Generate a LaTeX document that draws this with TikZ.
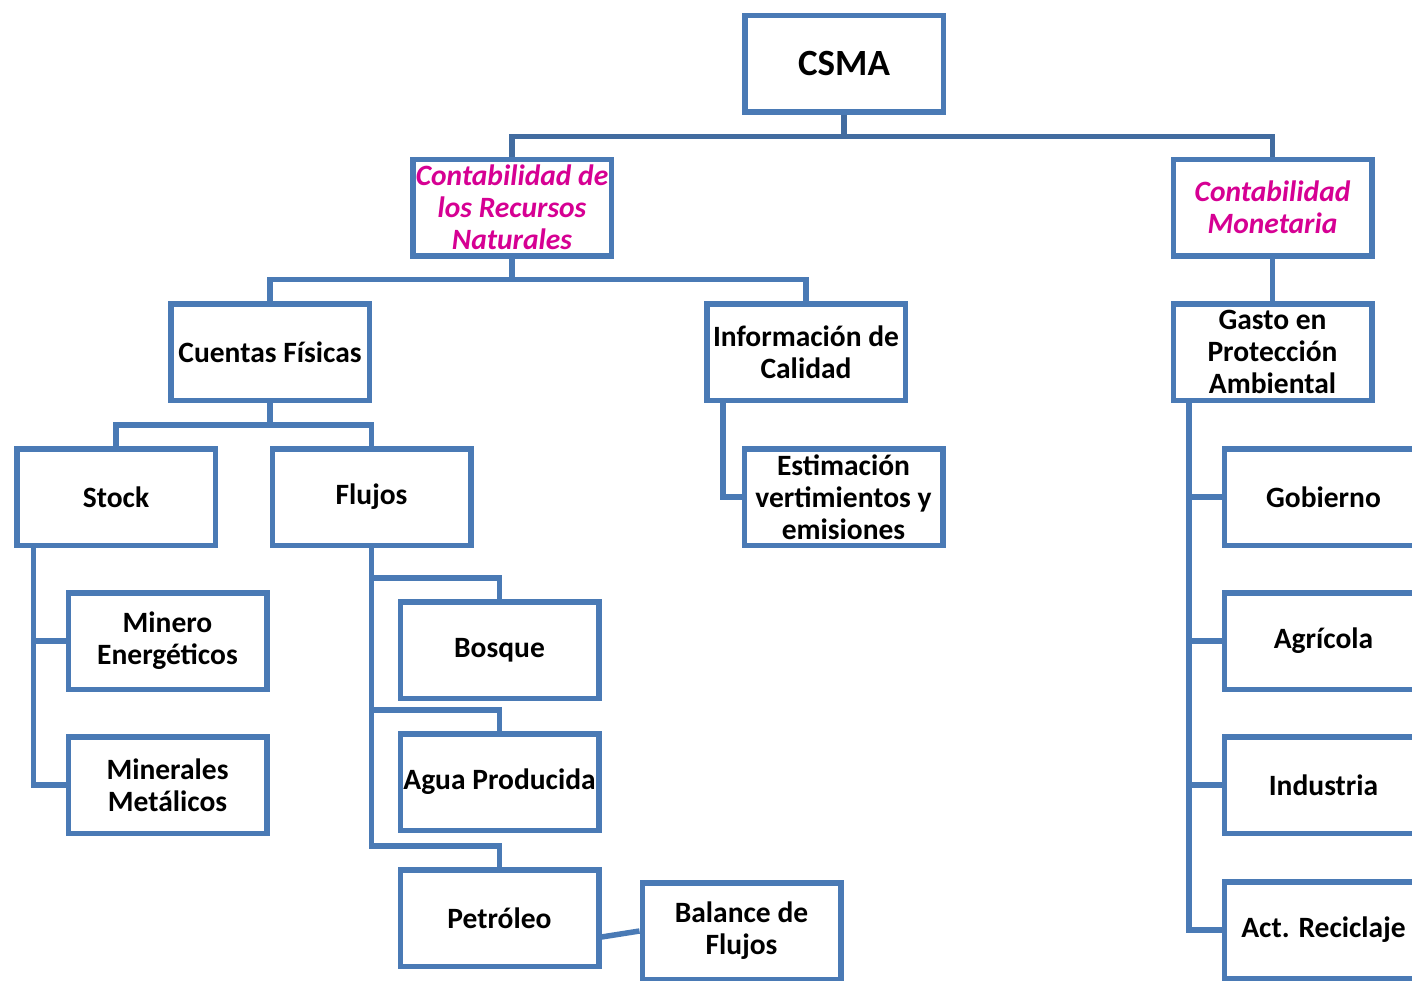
\documentclass[tikz,border=0pt]{standalone}
\usepackage{fontspec}
\setmainfont{Carlito}
\usetikzlibrary{positioning}

\definecolor{boxblue}{RGB}{74,122,181}
\definecolor{linkblue}{RGB}{66,108,160}
\definecolor{titlepink}{RGB}{214,0,147}

\tikzset{
  box/.style={draw=boxblue,line width=5.5pt,fill=white,minimum width=198.5pt,
    minimum height=96.5pt,inner sep=0pt,align=center,
    font=\fontsize{29.5}{32}\selectfont\bfseries},
  pinkbox/.style={box,text=titlepink,font=\fontsize{29.5}{32}\selectfont\bfseries\itshape},
  conn/.style={draw=boxblue,line width=5.5pt},
  topconn/.style={draw=linkblue,line width=5.5pt}
}

\begin{document}
\begin{tikzpicture}[x=1pt,y=-1pt]
        % page and background
        \clip (0,0) rectangle (1412,980);
        \fill[white] (0,0) rectangle (1412,980);

        % top levels
        \node[box,font=\fontsize{37}{40}\selectfont\bfseries] (csma) at (844,63.5) {CSMA};
        \node[pinkbox] (crn) at (512,207.5) {Contabilidad de\\los Recursos\\Naturales};
        \node[pinkbox] (cm) at (1272.5,207.5) {Contabilidad\\Monetaria};

        \node[box] (fisicas) at (270,352) {Cuentas Físicas};
        \node[box] (calidad) at (806,352) {Información de\\Calidad};
        \node[box] (gasto) at (1272.5,352) {Gasto en\\Protección\\Ambiental};

        % physical accounts
        \node[box] (stock) at (116,497) {Stock};
        \node[box] (flujos) at (371.5,497) {Flujos};
        \node[box] (minero) at (167.5,641) {Minero\\Energéticos};
        \node[box] (metal) at (167.5,785) {Minerales\\Metálicos};
        \node[box] (bosque) at (499.5,650) {Bosque};
        \node[box] (agua) at (499.5,782) {Agua Producida};
        \node[box] (petro) at (499.5,918) {Petróleo};
        \node[box] (balance) at (741.5,931) {Balance de\\Flujos};

        % quality
        \node[box] (estim) at (843.5,497) {Estimación\\vertimientos y\\emisiones};

        % expenditure
        \node[box] (gob) at (1323.5,497) {Gobierno};
        \node[box] (agri) at (1323.5,641) {Agrícola};
        \node[box] (indus) at (1323.5,785) {Industria};
        \node[box] (recic) at (1323.5,930) {Act. Reciclaje};

        % connectors
        \draw[topconn] (csma.south) -- ++(0,22) -| (crn.north);
        \draw[topconn] (csma.south) -- ++(0,22) -| (cm.north);
        \draw[conn] (crn.south) -- ++(0,21) -| (fisicas.north);
        \draw[conn] (crn.south) -- ++(0,21) -| (calidad.north);
        \draw[conn] (cm.south) -- (gasto.north);
        \draw[conn] (fisicas.south) -- ++(0,22) -| (stock.north);
        \draw[conn] (fisicas.south) -- ++(0,22) -| (flujos.north);

        \draw[conn] ([xshift=19pt]calidad.south west) |- (estim.west);

        \foreach \n in {gob,agri,indus,recic}
          \draw[conn] ([xshift=18.5pt]gasto.south west) |- (\n.west);

        \foreach \n in {minero,metal}
          \draw[conn] ([xshift=19.5pt]stock.south west) |- (\n.west);

        \foreach \n in {bosque,agua,petro}
          \draw[conn] (flujos.south) |- ([yshift=21pt]\n.north) -- (\n.north);

        \draw[conn] ([yshift=-19pt]petro.east) -- (balance.west);
\end{tikzpicture}
\end{document}
